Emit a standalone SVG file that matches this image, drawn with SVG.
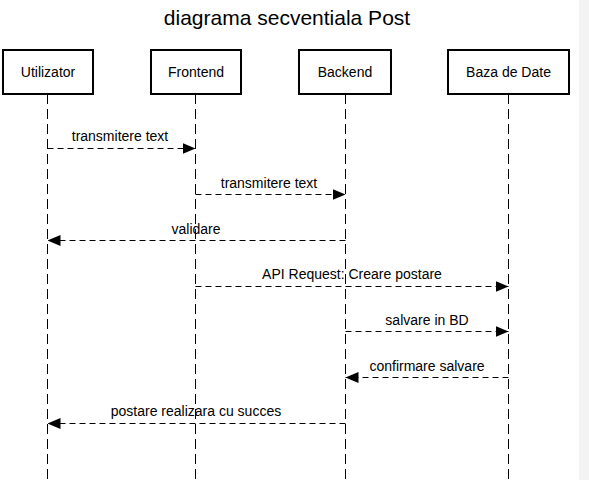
<svg xmlns="http://www.w3.org/2000/svg" width="589" height="480" viewBox="0 0 589 480">
<defs>
<style>
text{font-family:"Liberation Sans",Arial,sans-serif;fill:#000}
.title{font-size:21px;text-anchor:middle}
.box{fill:#fff;stroke:#000;stroke-width:2}
.bl{font-size:14px;text-anchor:middle}
.life{stroke:#000;stroke-width:1;stroke-dasharray:10,5;fill:none}
.msg{stroke:#000;stroke-width:1;stroke-dasharray:6,4;fill:none}
.ml{font-size:14px;text-anchor:middle}
</style>
<marker id="ah" viewBox="0 0 13 11" refX="13" refY="5.5" markerWidth="13" markerHeight="11" markerUnits="userSpaceOnUse" orient="auto">
<path d="M0,0 L13,5.5 L0,11 z" fill="#000"/>
</marker>
</defs>
<rect x="0" y="0" width="589" height="480" fill="#fff"/>
<rect x="579" y="0" width="10" height="480" fill="#f3f3f3"/>
<text class="title" x="287" y="25">diagrama secventiala Post</text>
<g id="connectors">
<line class="life" x1="47.5" y1="94" x2="47.5" y2="480"/>
<line class="life" x1="195.5" y1="94" x2="195.5" y2="480"/>
<line class="life" x1="345.5" y1="94" x2="345.5" y2="480"/>
<line class="life" x1="508.5" y1="94" x2="508.5" y2="480"/>
<line class="msg" x1="47.5" y1="148.5" x2="195.5" y2="148.5" marker-end="url(#ah)"/>
<text class="ml" x="120" y="141">transmitere text</text>
<line class="msg" x1="195.5" y1="194.5" x2="345.5" y2="194.5" marker-end="url(#ah)"/>
<text class="ml" x="269" y="188">transmitere text</text>
<line class="msg" x1="345.5" y1="240.5" x2="47.5" y2="240.5" marker-end="url(#ah)"/>
<text class="ml" x="196" y="234">validare</text>
<line class="msg" x1="195.5" y1="286.5" x2="508.5" y2="286.5" marker-end="url(#ah)"/>
<text class="ml" x="352" y="279">API Request: Creare postare</text>
<line class="msg" x1="345.5" y1="331.5" x2="508.5" y2="331.5" marker-end="url(#ah)"/>
<text class="ml" x="427" y="325">salvare in BD</text>
<line class="msg" x1="508.5" y1="377.5" x2="345.5" y2="377.5" marker-end="url(#ah)"/>
<text class="ml" x="427" y="371">confirmare salvare</text>
<line class="msg" x1="345.5" y1="423.5" x2="47.5" y2="423.5" marker-end="url(#ah)"/>
<text class="ml" x="196" y="416">postare realizara cu succes</text>
</g>
<g id="utilizator"><rect class="box" x="3" y="50" width="90" height="44"/><text class="bl" x="48" y="77">Utilizator</text></g>
<g id="frontend"><rect class="box" x="151" y="50" width="90" height="44"/><text class="bl" x="196" y="77">Frontend</text></g>
<g id="backend"><rect class="box" x="299" y="50" width="92" height="44"/><text class="bl" x="345" y="77">Backend</text></g>
<g id="bazadedate"><rect class="box" x="448" y="50" width="121" height="44"/><text class="bl" x="508.5" y="77">Baza de Date</text></g>
</svg>
